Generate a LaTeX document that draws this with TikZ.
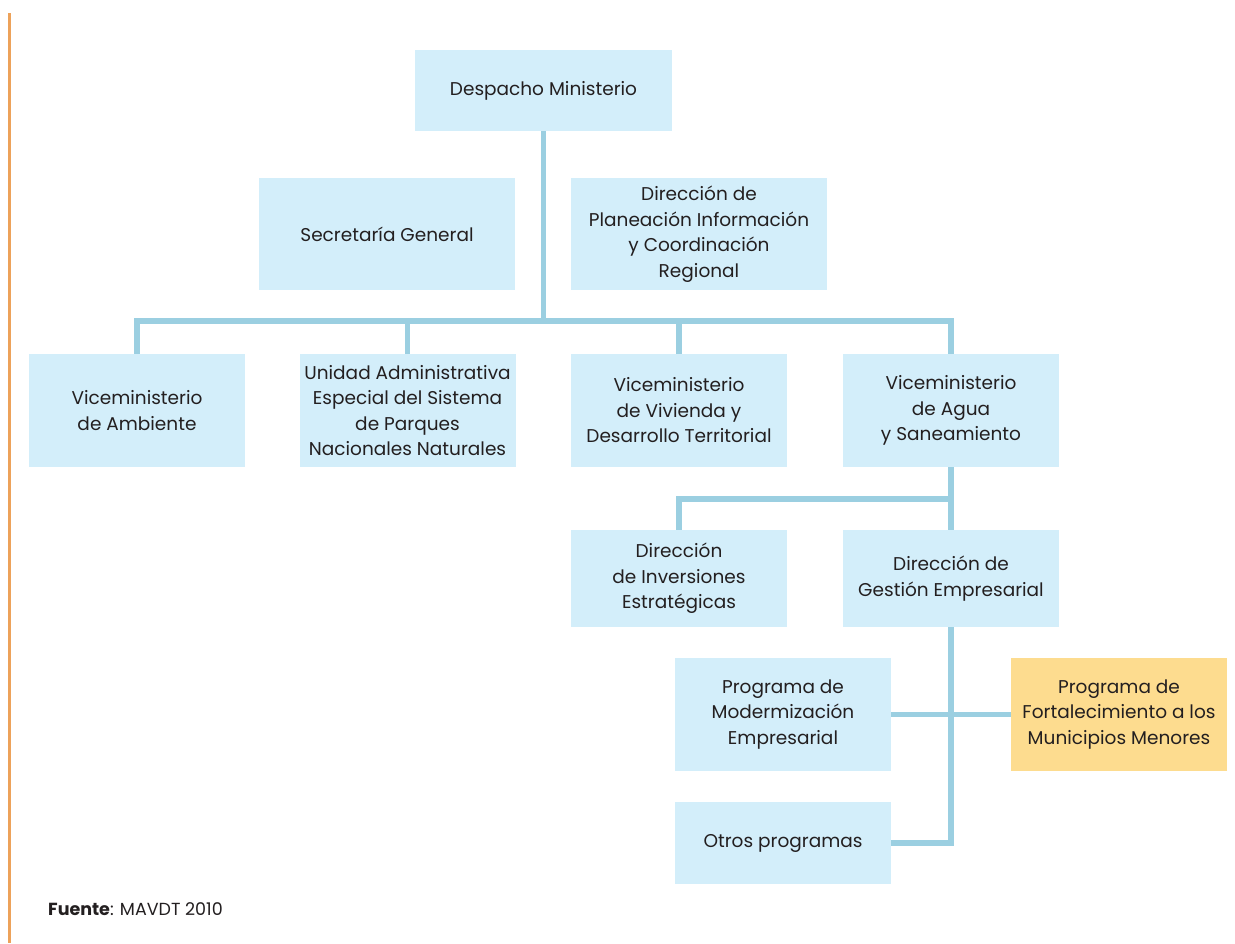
\documentclass[tikz,border=0pt]{standalone}
\usepackage{fontspec}
\setmainfont{Poppins}
\definecolor{boxblue}{HTML}{D3EEFA}
\definecolor{boxorange}{HTML}{FDDC8F}
\definecolor{linkblue}{HTML}{9BCFE1}
\definecolor{barorange}{HTML}{EDA25A}
\definecolor{txt}{HTML}{231F20}
\begin{document}
\begin{tikzpicture}[x=1pt,y=-1pt,
  orgbox/.style={rectangle, fill=boxblue, draw=none, inner sep=0pt, align=center,
    text=txt, font=\fontsize{18.5}{25.5}\selectfont, minimum width=216pt, minimum height=113pt},
  hibox/.style={orgbox, fill=boxorange},
  link/.style={draw=linkblue, line width=5.5pt, line join=miter}]
\useasboundingbox (0,0) rectangle (1235,943);
\fill[white] (0,0) rectangle (1235,943);
\fill[barorange] (8,13) rectangle (10.5,943);

\node[orgbox, minimum width=257pt, minimum height=81pt] (desp) at (543.5,90.5) {Despacho Ministerio};
\node[orgbox, minimum width=256pt, minimum height=112pt] (sec) at (387,234) {Secretaría General};
\node[orgbox, minimum width=256pt, minimum height=112pt] (plan) at (699,234) {Dirección de\\Planeación Información\\y Coordinación\\Regional};

\node[orgbox] (amb) at (137,410.5) {Viceministerio\\de Ambiente};
\node[orgbox] (uae) at (407.5,410.5) {Unidad Administrativa\\Especial del Sistema\\de Parques\\Nacionales Naturales};
\node[orgbox] (viv) at (679,410.5) {Viceministerio\\de Vivienda y\\Desarrollo Territorial};
\node[orgbox] (agua) at (951,410.5) {Viceministerio\\de Agua\\y Saneamiento};

\node[orgbox, minimum height=97pt] (inv) at (679,578.5) {Dirección\\de Inversiones\\Estratégicas};
\node[orgbox, minimum height=97pt] (gest) at (951,578.5) {Dirección de\\Gestión Empresarial};

\node[orgbox] (mod) at (783,714.5) {Programa de\\Modermización\\Empresarial};
\node[hibox] (fort) at (1119,714.5) {Programa de\\Fortalecimiento a los\\Municipios Menores};
\node[orgbox, minimum height=82pt] (otros) at (783,843) {Otros programas};

\coordinate (bus) at (543.5,321);
\coordinate (bus2) at (951,499);

\draw[link] (desp.south) -- (bus);
\draw[link] (amb.north) |- (bus) -| (agua.north);
\draw[link] (uae.north) -- (uae.north |- bus);
\draw[link] (viv.north) -- (viv.north |- bus);

\draw[link] (agua.south) -- (gest.north);
\draw[link] (inv.north) |- (bus2);

\draw[link] (gest.south) |- (otros.east);
\draw[link] (mod.east) -- (fort.west);

\node[anchor=base west, inner sep=0pt, text=txt, font=\fontsize{17.5}{20}\selectfont] (src) at (48,915) {\textbf{Fuente}: MAVDT 2010};
\end{tikzpicture}
\end{document}
